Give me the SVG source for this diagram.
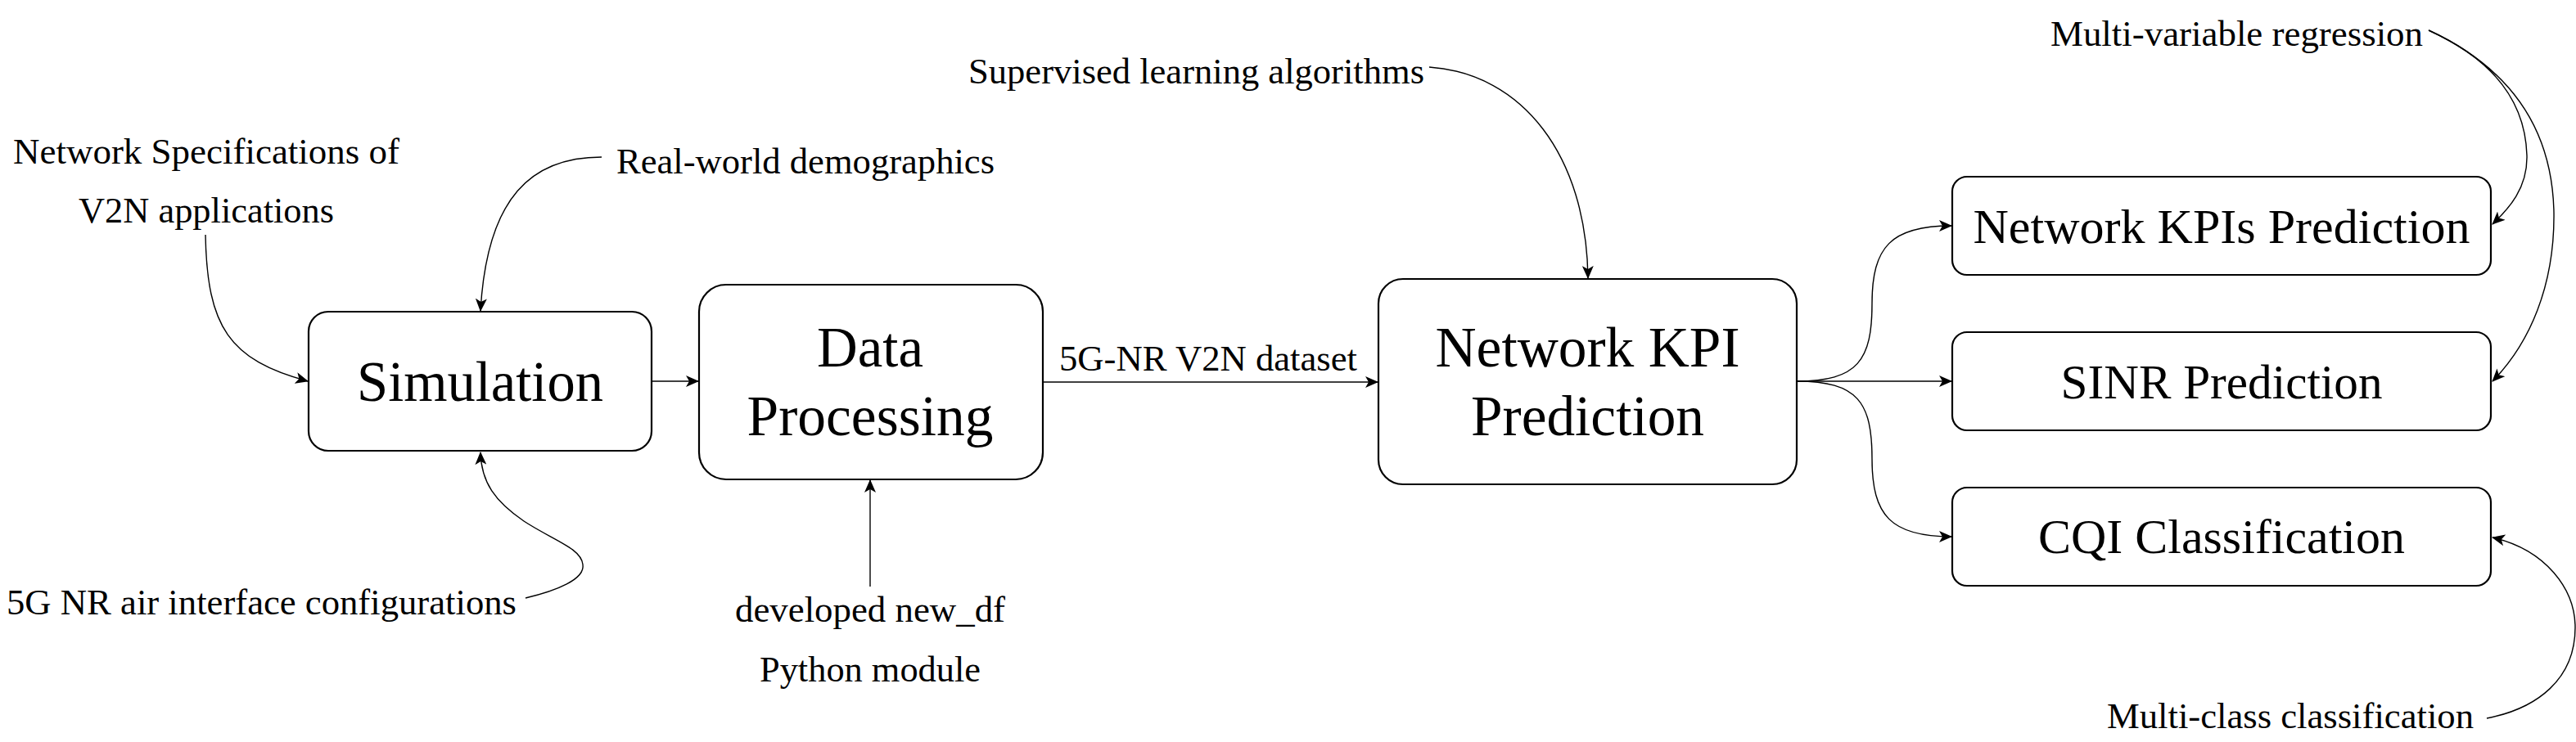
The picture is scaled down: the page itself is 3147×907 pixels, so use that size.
<svg xmlns="http://www.w3.org/2000/svg" width="3147" height="907" viewBox="0 0 3147 907" font-family="'Liberation Serif', 'Times New Roman', 'DejaVu Serif', serif">
<style>
.box{fill:#fff;stroke:#000;stroke-width:2.2}
.big{font-size:70px;text-anchor:middle;fill:#000}
.mid{font-size:60px;text-anchor:middle;fill:#000}
.lbl{font-size:45px;fill:#000}
.c{fill:none;stroke:#000;stroke-width:1.4;marker-end:url(#arr)}
</style>
<defs>
<marker id="arr" viewBox="0 0 16 14" refX="15" refY="7" markerWidth="16" markerHeight="14" markerUnits="userSpaceOnUse" orient="auto">
<path d="M0,0 L16,7 L0,14 L4,7 z" fill="#000"/>
</marker>
</defs>
<rect width="3147" height="907" fill="#fff"/>
<g id="connectors">
<path class="c" d="M251,287 C253,400 280,440 376,466"/>
<path class="c" d="M735,192 C650,192 595,240 587,380"/>
<path class="c" d="M642,731 C680,722 715,708 712,690 C710,670 675,660 640,637 C605,613 588,590 587,553"/>
<path class="c" d="M797,466 L853,466"/>
<path class="c" d="M1063,717 L1063,587"/>
<path class="c" d="M1274,467 L1683,467"/>
<path class="c" d="M1746,82 C1860,90 1938,190 1940,340"/>
<path class="c" d="M2195,466 C2270,466 2287,440 2287,371 C2287,302 2310,276 2384,276"/>
<path class="c" d="M2195,466 L2384,466"/>
<path class="c" d="M2195,466 C2270,466 2287,492 2287,561 C2287,630 2310,656 2384,656"/>
<path class="c" d="M2967,37 C3040,70 3085,120 3087,190 C3088,230 3065,255 3045,274"/>
<path class="c" d="M2967,37 C3060,80 3118,150 3120,260 C3121,350 3090,420 3045,466"/>
<path class="c" d="M3038,878 C3100,866 3146,830 3146,767 C3146,720 3110,672 3045,657"/>
</g>
<g id="simulation">
<rect class="box" x="377" y="381" width="419" height="170" rx="24" ry="24"/>
<text class="big" font-family="Liberation Serif" x="586.5" y="490" textLength="301" lengthAdjust="spacingAndGlyphs">Simulation</text>
</g>
<g id="data-processing">
<rect class="box" x="854" y="348" width="420" height="238" rx="33" ry="33"/>
<text class="big" font-family="Liberation Serif" x="1063" y="448" textLength="130" lengthAdjust="spacingAndGlyphs">Data</text>
<text class="big" font-family="Liberation Serif" x="1063" y="532" textLength="301" lengthAdjust="spacingAndGlyphs">Processing</text>
</g>
<g id="network-kpi-prediction">
<rect class="box" x="1684" y="341" width="511" height="251" rx="30" ry="30"/>
<text class="big" font-family="Liberation Serif" x="1939.5" y="448" textLength="372" lengthAdjust="spacingAndGlyphs">Network KPI</text>
<text class="big" font-family="Liberation Serif" x="1939.5" y="532" textLength="285" lengthAdjust="spacingAndGlyphs">Prediction</text>
</g>
<g id="network-kpis-prediction">
<rect class="box" x="2385" y="216" width="658" height="120" rx="18" ry="18"/>
<text class="mid" font-family="Liberation Serif" x="2714" y="297" textLength="607" lengthAdjust="spacingAndGlyphs">Network KPIs Prediction</text>
</g>
<g id="sinr-prediction">
<rect class="box" x="2385" y="406" width="658" height="120" rx="18" ry="18"/>
<text class="mid" font-family="Liberation Serif" x="2714" y="487" textLength="393" lengthAdjust="spacingAndGlyphs">SINR Prediction</text>
</g>
<g id="cqi-classification">
<rect class="box" x="2385" y="596" width="658" height="120" rx="18" ry="18"/>
<text class="mid" font-family="Liberation Serif" x="2714" y="676" textLength="448" lengthAdjust="spacingAndGlyphs">CQI Classification</text>
</g>
<g id="label-network-specs" font-family="Liberation Serif">
<text class="lbl" x="252" y="200" text-anchor="middle" textLength="472" lengthAdjust="spacingAndGlyphs">Network Specifications of</text>
<text class="lbl" x="252" y="272" text-anchor="middle" textLength="312" lengthAdjust="spacingAndGlyphs">V2N applications</text>
</g>
<g id="label-real-world" font-family="Liberation Serif">
<text class="lbl" x="753" y="212" textLength="462" lengthAdjust="spacingAndGlyphs">Real-world demographics</text>
</g>
<g id="label-5g-air" font-family="Liberation Serif">
<text class="lbl" x="8" y="751" textLength="623" lengthAdjust="spacingAndGlyphs">5G NR air interface configurations</text>
</g>
<g id="label-dataset" font-family="Liberation Serif">
<text class="lbl" x="1294" y="453" textLength="364" lengthAdjust="spacingAndGlyphs">5G-NR V2N dataset</text>
</g>
<g id="label-supervised" font-family="Liberation Serif">
<text class="lbl" x="1183" y="102" textLength="557" lengthAdjust="spacingAndGlyphs">Supervised learning algorithms</text>
</g>
<g id="label-new-df" font-family="Liberation Serif">
<text class="lbl" x="1063" y="760" text-anchor="middle" textLength="330" lengthAdjust="spacingAndGlyphs">developed new_df</text>
<text class="lbl" x="1063" y="833" text-anchor="middle" textLength="270" lengthAdjust="spacingAndGlyphs">Python module</text>
</g>
<g id="label-multi-variable" font-family="Liberation Serif">
<text class="lbl" x="2505" y="56" textLength="455" lengthAdjust="spacingAndGlyphs">Multi-variable regression</text>
</g>
<g id="label-multi-class" font-family="Liberation Serif">
<text class="lbl" x="2574" y="890" textLength="448" lengthAdjust="spacingAndGlyphs">Multi-class classification</text>
</g>
</svg>
